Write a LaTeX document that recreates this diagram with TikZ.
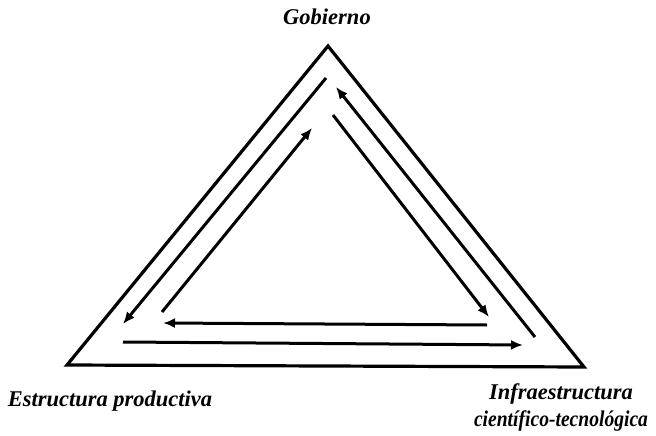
\documentclass[tikz,border=0pt]{standalone}
\usepackage{fontspec}
\usepackage{graphicx}
\setmainfont{Liberation Serif}
\usetikzlibrary{arrows.meta}

\begin{document}
\begin{tikzpicture}[x=1pt, y=-1pt, every node/.style={font=\fontsize{22.5}{27}\selectfont\bfseries\itshape}, >={Latex[length=12pt, width=10pt]}, flow/.style={->, line width=3pt}, lbl/.style={align=center, inner sep=0pt}]
	\useasboundingbox (0,0) rectangle (656,436);
	% outer triangle
	\coordinate (G) at (328,46);
	\coordinate (E) at (67,365);
	\coordinate (I) at (584,367);
	\draw[line width=3.2pt, line join=miter] (G) -- (E) -- (I) -- cycle;
	% arrow end points
	\coordinate (l1) at (326,78);  \coordinate (l2) at (123,324);
	\coordinate (l3) at (162,312); \coordinate (l4) at (312,128);
	\coordinate (r1) at (535,337); \coordinate (r2) at (336,87);
	\coordinate (r3) at (333,115); \coordinate (r4) at (489,317);
	\coordinate (b1) at (487,325); \coordinate (b2) at (163,323);
	\coordinate (b3) at (123,342); \coordinate (b4) at (523,345);
	\draw[flow] (l1) -- (l2); \draw[flow] (l3) -- (l4);
	\draw[flow] (r1) -- (r2); \draw[flow] (r3) -- (r4);
	\draw[flow] (b1) -- (b2); \draw[flow] (b3) -- (b4);
	% labels
	\node[lbl] (gob) at (327,17) {Gobierno};
	\node[lbl] (est) at (110,401) {Estructura productiva};
	\node[lbl] (inf) at (561,407) {Infraestructura\\\scalebox{0.87}[1]{científico-tecnológica}};
\end{tikzpicture}
\end{document}
